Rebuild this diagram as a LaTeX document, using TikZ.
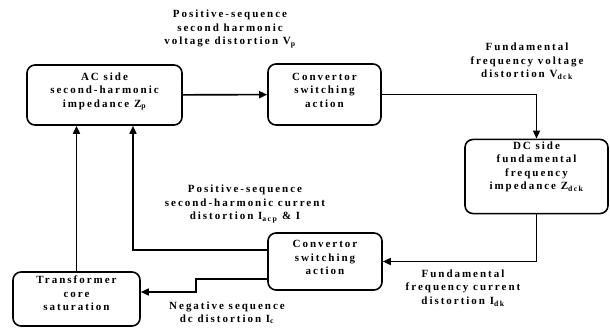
\documentclass[tikz,border=0pt]{standalone}
\usepackage{fontspec}
\setmainfont{Liberation Serif}[LetterSpace=18]
\usetikzlibrary{arrows.meta}

\tikzset{
	blk/.style={draw, rounded corners=8pt, line width=1.6pt, align=center, inner sep=2pt},
	lbl/.style={align=center, inner sep=0pt},
	arr/.style={-{Triangle[length=8pt,width=7pt]}, line width=1.6pt}
}

\begin{document}
\begin{tikzpicture}[x=1pt, y=-1pt, font=\fontsize{11}{13.5}\selectfont\bfseries]
	\useasboundingbox (0,0) rectangle (610,327);
	% blocks
	\node[blk, minimum width=155pt, minimum height=60pt, text depth=10pt] (ac) at (104.5,95) {AC side\\second-harmonic\\impedance Z\textsubscript{p}};
	\node[blk, minimum width=113pt, minimum height=61pt, text depth=9pt] (cv1) at (324.5,94.5) {Convertor\\switching\\action};
	\node[blk, minimum width=143pt, minimum height=73pt, text depth=22pt] (dc) at (536.5,176.5) {DC side\\fundamental\\frequency\\impedance Z\textsubscript{dck}};
	\node[blk, minimum width=114pt, minimum height=57pt, text depth=8pt] (cv2) at (325,261.5) {Convertor\\switching\\action};
	\node[blk, minimum width=127pt, minimum height=54pt, text depth=11pt] (tr) at (76.5,299) {Transformer\\core\\saturation};
	% labels
	\node[lbl] (lvp) at (230,29) {Positive-sequence\\second harmonic\\voltage distortion V\textsubscript{p}};
	\node[lbl] (lvd) at (527,61.5) {Fundamental\\frequency voltage\\distortion V\textsubscript{dck}};
	\node[lbl] (lip) at (245,204) {Positive-sequence\\second-harmonic current\\distortion I\textsubscript{acp} \& I};
	\node[lbl] (lid) at (463,288) {Fundamental\\frequency current\\distortion I\textsubscript{dk}};
	\node[lbl, font=\fontsize{11}{12.5}\selectfont\bfseries] (lnc) at (227,313) {Negative sequence\\dc distortion I\textsubscript{c}};
	% connectors
	\draw[arr] (ac) -- (cv1);
	\draw[arr] (cv1.east) -| (dc.north);
	\draw[arr] (dc.south) |- (cv2.east);
	\draw[arr] ([yshift=11.5pt]cv2.west) -| ([xshift=28.5pt]ac.south);
	\draw[arr] ([yshift=-17.5pt]cv2.west) -- ++(-71,0) |- ([yshift=7pt]tr.east);
	\draw[arr] (tr.north) -- (tr.north |- ac.south);
\end{tikzpicture}
\end{document}
